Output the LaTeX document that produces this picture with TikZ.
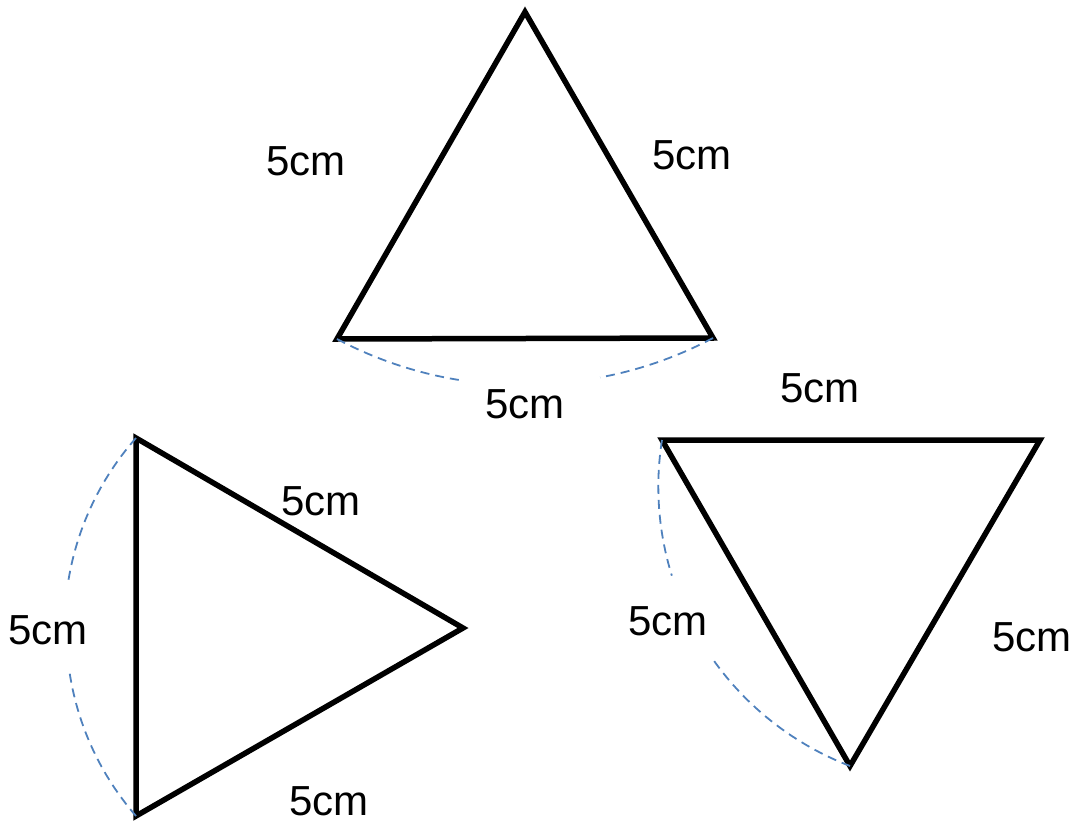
\documentclass[tikz,border=0pt]{standalone}
\usepackage{fontspec}
\setmainfont{Liberation Sans}
\usepackage{tikz}
\definecolor{dimblue}{HTML}{4F81BD}

\begin{document}
\begin{tikzpicture}[x=1pt,y=-1pt,
  tri/.style={draw=black,line width=5.5pt,line join=miter},
  dim/.style={draw=dimblue,line width=1.8pt,dash pattern=on 9pt off 6pt},
  len/.style={font=\fontsize{42}{48}\selectfont,inner sep=0pt}]
  \useasboundingbox (0,0) rectangle (1078,821);

  \coordinate (top) at (525,12);
  \coordinate (topl) at (337,339);
  \coordinate (topr) at (713,338);
  \coordinate (lefta) at (136,438);
  \coordinate (leftb) at (136,816);
  \coordinate (leftc) at (463,628);
  \coordinate (righta) at (662,440);
  \coordinate (rightb) at (1040,440);
  \coordinate (rightc) at (850,766);

  \draw[tri] (top) -- (topl) -- (topr) -- cycle;
  \draw[tri] (lefta) -- (leftb) -- (leftc) -- cycle;
  \draw[tri] (righta) -- (rightb) -- (rightc) -- cycle;

  \draw[dim] (topl) arc[start angle=118,end angle=98.5,radius=393];
  \draw[dim] (topr) arc[start angle=62,end angle=79.5,radius=393];
  \draw[dim] (lefta) arc[start angle=221.5,end angle=188.5,radius=284];
  \draw[dim] (leftb) arc[start angle=139,end angle=172,radius=284];
  \draw[dim] (righta) arc[start angle=189,end angle=162.7,radius=299];
  \draw[dim] (rightc) arc[start angle=111,end angle=145,radius=299];

  \node[len] (topls) at (306,161) {5cm};
  \node[len] (toprs) at (692,155) {5cm};
  \node[len] (topbs) at (525,404) {5cm};
  \node[len] (leftus) at (321,501) {5cm};
  \node[len] (leftls) at (48,630) {5cm};
  \node[len] (leftds) at (329,801) {5cm};
  \node[len] (rightts) at (820,388) {5cm};
  \node[len] (rightls) at (668,621) {5cm};
  \node[len] (rightrs) at (1032,637) {5cm};
\end{tikzpicture}
\end{document}
